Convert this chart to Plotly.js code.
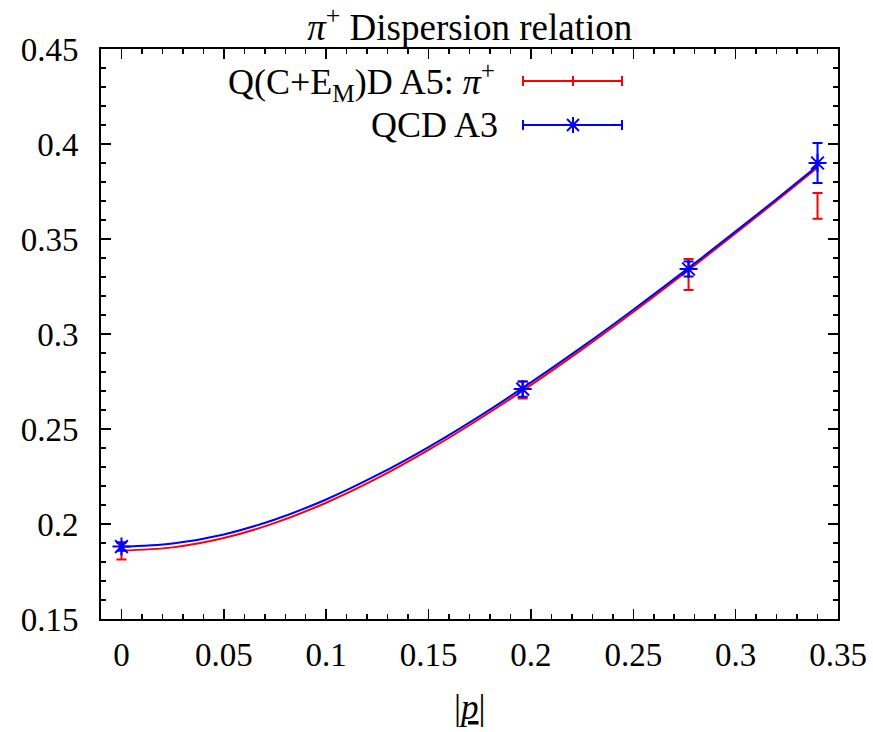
<!DOCTYPE html>
<html>
<head>
<meta charset="utf-8">
<script src="https://cdn.plot.ly/plotly-3.0.1.min.js"></script>
<style>html,body{margin:0;padding:0;background:#fff;}#chart{width:873px;height:732px;}</style>
</head>
<body>
<div id="chart"></div>
<script>
// Data
var momenta = [0, 0.196, 0.277, 0.340];
var qcedE = [0.1858, 0.2705, 0.3313, 0.3674];
var qcedErr = [0.0045, 0.0045, 0.0082, 0.0068];
var qcdE = [0.1881, 0.2710, 0.3342, 0.3900];
var qcdErr = [0.0022, 0.0040, 0.0040, 0.0105];

var fitP = [0, 0.025, 0.05, 0.075, 0.1, 0.125, 0.15, 0.175, 0.2, 0.225, 0.25, 0.275, 0.3, 0.32, 0.34];
var fitQced = [0.1860, 0.1877, 0.1926, 0.2006, 0.2112, 0.2241, 0.2390, 0.2554, 0.2731, 0.2919, 0.3116, 0.3320, 0.3530, 0.3701, 0.3876];
var fitQcd = [0.1880, 0.1897, 0.1945, 0.2024, 0.2129, 0.2258, 0.2405, 0.2568, 0.2745, 0.2932, 0.3128, 0.3331, 0.3540, 0.3711, 0.3885];

var legendLabels = ['Q(C+E<sub>M</sub>)D A5: <i>π</i><sup>+</sup>', 'QCD A3'];

var RED = '#ff0000', BLUE = '#0000ff';
var FONT = '"Liberation Serif", "Times New Roman", serif';

var traces = [
  {x: fitP, y: fitQced, mode: 'lines', line: {color: RED, width: 2, shape: 'spline'}, hoverinfo: 'skip'},
  {x: fitP, y: fitQcd, mode: 'lines', line: {color: BLUE, width: 2, shape: 'spline'}, hoverinfo: 'skip'},
  {x: momenta, y: qcedE, mode: 'markers',
   marker: {color: RED, size: 1, opacity: 0},
   error_y: {type: 'data', array: qcedErr, visible: true, color: RED, thickness: 2, width: 5}},
  {x: momenta, y: qcdE, mode: 'markers',
   marker: {symbol: 'asterisk-open', color: BLUE, size: 15, line: {color: BLUE, width: 2}},
   error_y: {type: 'data', array: qcdErr, visible: true, color: BLUE, thickness: 2, width: 5}}
];

// plot area in px: left 101, right 838, top 49, bottom 619.5
var L = 101, R = 838, T = 49, B = 619.5;
function px(x) { return (x - L) / (R - L); }
function py(y) { return (B - y) / (B - T); }

var shapes = [];
function seg(x0, y0, x1, y1, c) {
  shapes.push({type: 'line', xref: 'paper', yref: 'paper', x0: px(x0), y0: py(y0), x1: px(x1), y1: py(y1), line: {color: c, width: 2}});
}
// legend samples
var sx0 = 523, sx1 = 622, sxc = 573, r1 = 81, r2 = 125;
seg(sx0, r1, sx1, r1, RED); seg(sx0, r1 - 5, sx0, r1 + 5, RED); seg(sx1, r1 - 5, sx1, r1 + 5, RED); seg(sxc, r1 - 5, sxc, r1 + 5, RED);
seg(sx0, r2, sx1, r2, BLUE); seg(sx0, r2 - 5, sx0, r2 + 5, BLUE); seg(sx1, r2 - 5, sx1, r2 + 5, BLUE);
seg(sxc, r2 - 8, sxc, r2 + 8, BLUE); seg(sxc - 6, r2 - 6, sxc + 6, r2 + 6, BLUE); seg(sxc - 6, r2 + 6, sxc + 6, r2 - 6, BLUE);

var annotations = [
  {xref: 'paper', yref: 'paper', x: px(497), y: py(82), xanchor: 'right', yanchor: 'middle', showarrow: false, text: legendLabels[0], font: {family: FONT, size: 36, color: '#000'}},
  {xref: 'paper', yref: 'paper', x: px(500), y: py(125), xanchor: 'right', yanchor: 'middle', showarrow: false, text: legendLabels[1], font: {family: FONT, size: 36, color: '#000'}},
  {xref: 'paper', yref: 'paper', x: 0.5, y: py(708), xanchor: 'center', yanchor: 'middle', showarrow: false, text: '|<i><u>p</u></i>|', font: {family: FONT, size: 35, color: '#000'}}
];

var axisCommon = {
  showgrid: false, zeroline: false, showline: true, linecolor: '#000', linewidth: 2, mirror: 'ticks',
  ticks: 'inside', ticklen: 10, tickwidth: 1.5, tickcolor: '#000',
  tickfont: {family: FONT, size: 33, color: '#000'},
  minor: {ticks: 'inside', ticklen: 5, tickwidth: 1.5, tickcolor: '#000', showgrid: false}
};

var layout = {
  width: 873, height: 732,
  margin: {l: L, r: 873 - R, t: T, b: 732 - B, pad: 0},
  paper_bgcolor: '#fff', plot_bgcolor: '#fff',
  showlegend: false,
  title: {text: '<i>π</i><sup>+</sup> Dispersion relation', font: {family: FONT, size: 37, color: '#000'}, x: 0.538, xanchor: 'center', yref: 'container', y: 1 - 27 / 732, yanchor: 'middle'},
  xaxis: Object.assign({}, axisCommon, {range: [-0.01, 0.35], dtick: 0.05, tick0: 0, ticklabelstandoff: 5, minor: Object.assign({}, axisCommon.minor, {dtick: 0.01})}),
  yaxis: Object.assign({}, axisCommon, {range: [0.15, 0.45], dtick: 0.05, tick0: 0.15, ticklabelstandoff: 14, minor: Object.assign({}, axisCommon.minor, {dtick: 0.01})}),
  shapes: shapes,
  annotations: annotations
};

Plotly.newPlot('chart', traces, layout, {displayModeBar: false, staticPlot: true});
</script>
</body>
</html>
